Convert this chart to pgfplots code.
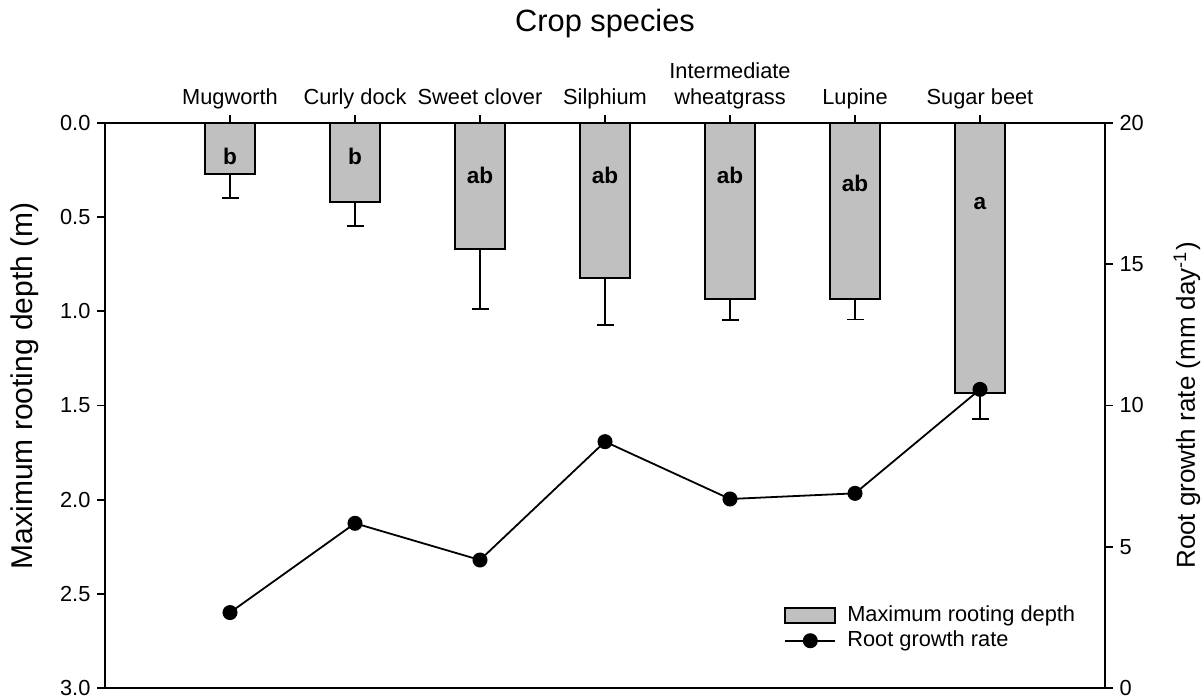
\documentclass[border=0pt]{standalone}
\usepackage{fontspec}
\setmainfont{Liberation Sans}
\usepackage{pgfplots}
\pgfplotsset{compat=1.18}
\definecolor{bargray}{HTML}{C0C0C0}
\begin{document}
\begin{tikzpicture}
\pgfplotsset{
  common/.style={
    scale only axis, width=500pt, height=282.5pt,
    xmin=0, xmax=8,
    tick style={black, line width=0.9pt},
    major tick length=3.75pt,
    axis line style={line width=0.9pt},
    tick align=outside,
    /pgf/number format/assume math mode=true,
    every tick label/.append style={font=\fontsize{10.9}{13}\selectfont},
  }
}
\begin{axis}[common,
  ymin=0, ymax=3, y dir=reverse,
  ytick={0,0.5,1,1.5,2,2.5,3}, ytick pos=left,
  yticklabel style={/pgf/number format/.cd, fixed, fixed zerofill, precision=1},
  xtick={1,2,3,4,5,6,7}, xtick pos=top, xticklabel pos=top,
  xticklabels={Mugworth, Curly dock, Sweet clover, Silphium, {Intermediate\\wheatgrass}, Lupine, Sugar beet},
  xticklabel style={align=center, text depth=0.22em},
  ylabel={Maximum rooting depth (m)},
  ylabel style={font=\fontsize{15}{18}\selectfont, at={(axis description cs:0,0.535)}, yshift=40pt, anchor=center},
]
\addplot[ybar, bar width=0.4, fill=bargray, draw=black, line width=0.9pt,
  error bars/.cd, y dir=plus, y explicit,
  error bar style={line width=0.9pt, black},
  error mark options={rotate=90, line width=0.9pt, mark size=4.25pt, black}]
  table[x=x, y=y, y error=e] {
x y e
1 0.272 0.125
2 0.421 0.128
3 0.669 0.317
4 0.825 0.246
5 0.933 0.113
6 0.936 0.107
7 1.432 0.138
};
\addplot[draw=none, mark=none, forget plot, nodes near coords, point meta=explicit symbolic,
  every node near coord/.append style={anchor=base, inner sep=0pt, font=\bfseries\fontsize{11.3}{13}\selectfont}]
  table[x=x, y=y, meta=lab] {
x y lab
1 0.223 b
2 0.223 b
3 0.320 ab
4 0.320 ab
5 0.320 ab
6 0.365 ab
7 0.458 a
};
\end{axis}
\begin{axis}[common,
  ymin=0, ymax=20, ytick={0,5,10,15,20},
  axis y line*=right, axis x line=none,
  ylabel={Root growth rate (mm day\textsuperscript{-1})},
  ylabel style={font=\fontsize{13}{16}\selectfont, at={(axis description cs:1,0.5)}, yshift=-41pt, anchor=center},
  legend style={draw=none, fill=none, at={(axis description cs:0.679,0.150)}, anchor=north west,
    inner sep=0pt, row sep=0.4pt, font=\fontsize{10.9}{13}\selectfont,
    nodes={inner sep=1pt, text height=7.8pt, text depth=2.3pt}},
  legend cell align=left,
]
\addlegendimage{legend image code/.code={\draw[fill=bargray, draw=black, line width=0.9pt] (0pt,-3.75pt) rectangle (25pt,3.75pt); \path[draw=none] (0pt,0pt) -- (30pt,0pt);}}
\addlegendentry{Maximum rooting depth}
\addplot[black, line width=0.9pt, mark=*, mark size=3.3pt, mark options={fill=black},
  legend image code/.code={\draw[black, line width=0.9pt] (0pt,0pt) -- (25pt,0pt); \fill[black] (12.5pt,0pt) circle (3.3pt); \path[draw=none] (0pt,0pt) -- (30pt,0pt);}]
  coordinates {(1,2.67) (2,5.83) (3,4.53) (4,8.72) (5,6.69) (6,6.89) (7,10.57)};
\addlegendentry{Root growth rate}
\coordinate (bl) at (rel axis cs:0,0);
\coordinate (tr) at (rel axis cs:1,1);
\coordinate (top) at (rel axis cs:0.5,1);
\end{axis}
\node[font=\fontsize{15.4}{18}\selectfont, anchor=base] at ([yshift=45.5pt]top) {Crop species};
\pgfresetboundingbox
\path[use as bounding box] ([shift={(-52.5pt,-5pt)}]bl) rectangle ([shift={(49pt,61.5pt)}]tr);
\end{tikzpicture}
\end{document}
